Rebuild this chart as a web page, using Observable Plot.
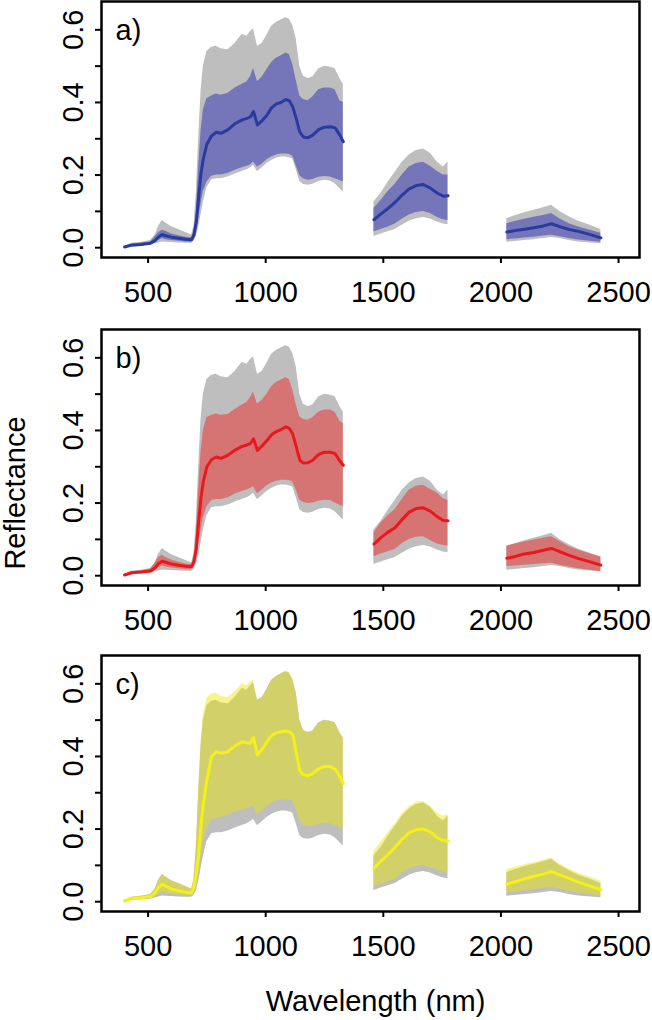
<!DOCTYPE html>
<html>
<head>
<meta charset="utf-8">
<script src="https://cdn.jsdelivr.net/npm/d3@7"></script>
<script src="https://cdn.jsdelivr.net/npm/@observablehq/plot@0.6"></script>
<style>
  html, body { margin: 0; padding: 0; background: #fff; }
  #chart { width: 652px; }
  #chart svg { display: block; }
</style>
</head>
<body>
<div id="chart"></div>
<script>
// ---- data ----
const wavelength = [
  400,430,470,510,530,545,560,575,600,630,660,685,695,705,715,725,735,750,770,790,810,840,870,900,920,935,948,965,985,1005,1025,1045,1065,1085,1100,1115,1130,1145,1160,1180,1200,1225,1250,1275,1295,1315,1330,
  1460,1490,1520,1550,1580,1610,1640,1670,1700,1730,1755,1775,
  2025,2060,2100,2140,2180,2215,2250,2290,2330,2380,2425
];
const bandGaps = [1400, 1900];

// overall range (grey envelope)
const grayHi = [
  0.003,0.012,0.015,0.020,0.035,0.060,0.075,0.068,0.058,0.050,0.042,0.035,0.060,0.150,0.300,0.430,0.500,0.540,0.552,0.555,0.548,0.545,0.563,0.588,0.582,0.595,0.603,0.555,0.562,0.585,0.610,0.620,0.627,0.633,0.630,0.612,0.575,0.500,0.472,0.466,0.470,0.492,0.500,0.497,0.493,0.466,0.450,
  0.126,0.150,0.180,0.207,0.235,0.255,0.268,0.272,0.260,0.235,0.222,0.236,
  0.080,0.088,0.096,0.103,0.110,0.117,0.100,0.085,0.073,0.062,0.050
];
const grayLo = [
  0.000,0.004,0.005,0.007,0.010,0.013,0.016,0.015,0.014,0.013,0.012,0.012,0.018,0.030,0.055,0.090,0.125,0.165,0.187,0.190,0.190,0.195,0.203,0.210,0.215,0.220,0.227,0.209,0.220,0.232,0.240,0.246,0.250,0.250,0.248,0.244,0.215,0.182,0.174,0.172,0.175,0.182,0.186,0.184,0.176,0.163,0.153,
  0.031,0.038,0.044,0.050,0.062,0.073,0.080,0.083,0.079,0.071,0.065,0.063,
  0.015,0.017,0.020,0.022,0.025,0.028,0.025,0.020,0.016,0.013,0.011
];

// class a (blue)
const blueHi = [
  0.003,0.010,0.012,0.016,0.030,0.042,0.048,0.045,0.038,0.033,0.029,0.027,0.045,0.100,0.220,0.320,0.380,0.410,0.418,0.423,0.420,0.425,0.440,0.450,0.456,0.470,0.494,0.457,0.470,0.490,0.510,0.522,0.528,0.536,0.532,0.505,0.460,0.418,0.408,0.405,0.415,0.435,0.440,0.440,0.435,0.405,0.400,
  0.108,0.130,0.155,0.175,0.200,0.222,0.232,0.235,0.224,0.210,0.200,0.200,
  0.066,0.072,0.078,0.084,0.089,0.094,0.080,0.066,0.057,0.048,0.040
];
const blueMean = [
  0.002,0.007,0.009,0.012,0.020,0.030,0.036,0.033,0.029,0.026,0.023,0.022,0.035,0.070,0.140,0.205,0.245,0.285,0.308,0.318,0.315,0.325,0.342,0.352,0.356,0.360,0.375,0.338,0.350,0.365,0.385,0.396,0.400,0.408,0.405,0.388,0.355,0.318,0.305,0.303,0.310,0.325,0.332,0.333,0.330,0.310,0.292,
  0.077,0.093,0.108,0.125,0.145,0.162,0.171,0.174,0.164,0.150,0.142,0.143,
  0.043,0.047,0.051,0.055,0.060,0.066,0.058,0.050,0.045,0.036,0.027
];
const blueLo = [
  0.001,0.005,0.006,0.009,0.013,0.020,0.025,0.022,0.020,0.018,0.016,0.015,0.025,0.045,0.080,0.120,0.155,0.180,0.197,0.200,0.200,0.204,0.213,0.220,0.224,0.228,0.236,0.222,0.230,0.242,0.250,0.255,0.258,0.258,0.257,0.252,0.225,0.198,0.190,0.186,0.188,0.194,0.196,0.195,0.190,0.185,0.181,
  0.043,0.050,0.057,0.065,0.078,0.090,0.097,0.100,0.094,0.083,0.077,0.075,
  0.022,0.024,0.027,0.029,0.032,0.034,0.030,0.025,0.021,0.018,0.015
];

// class b (red)
const redHi = [
  0.003,0.011,0.013,0.018,0.035,0.050,0.056,0.050,0.043,0.037,0.032,0.030,0.050,0.110,0.240,0.340,0.400,0.435,0.442,0.445,0.442,0.444,0.458,0.470,0.477,0.490,0.506,0.472,0.483,0.500,0.520,0.532,0.538,0.545,0.540,0.512,0.470,0.438,0.430,0.428,0.435,0.450,0.456,0.456,0.450,0.425,0.419,
  0.118,0.145,0.165,0.182,0.210,0.236,0.246,0.249,0.238,0.228,0.212,0.208,
  0.082,0.087,0.093,0.098,0.103,0.107,0.094,0.080,0.070,0.060,0.052
];
const redMean = [
  0.002,0.008,0.010,0.013,0.022,0.034,0.040,0.037,0.032,0.029,0.026,0.025,0.038,0.075,0.150,0.215,0.260,0.300,0.320,0.327,0.323,0.332,0.346,0.356,0.360,0.364,0.377,0.345,0.358,0.372,0.388,0.397,0.402,0.410,0.406,0.390,0.355,0.318,0.310,0.311,0.318,0.334,0.340,0.340,0.336,0.316,0.304,
  0.087,0.105,0.120,0.132,0.155,0.175,0.185,0.187,0.178,0.162,0.152,0.151,
  0.048,0.053,0.060,0.064,0.070,0.075,0.066,0.056,0.047,0.038,0.029
];
const redLo = [
  0.001,0.005,0.007,0.009,0.014,0.022,0.027,0.024,0.021,0.019,0.017,0.016,0.026,0.048,0.085,0.125,0.160,0.190,0.207,0.210,0.210,0.215,0.225,0.232,0.236,0.240,0.245,0.226,0.236,0.248,0.255,0.260,0.263,0.263,0.262,0.258,0.235,0.208,0.202,0.199,0.200,0.205,0.208,0.207,0.200,0.194,0.190,
  0.052,0.060,0.066,0.072,0.088,0.100,0.106,0.107,0.097,0.087,0.083,0.082,
  0.025,0.027,0.029,0.031,0.033,0.034,0.029,0.024,0.019,0.015,0.011
];

// class c (yellow)
const yellowHi = [
  0.003,0.012,0.015,0.020,0.035,0.060,0.075,0.068,0.058,0.050,0.042,0.035,0.060,0.150,0.300,0.440,0.515,0.560,0.572,0.575,0.565,0.562,0.578,0.600,0.595,0.605,0.610,0.553,0.560,0.583,0.608,0.620,0.627,0.635,0.632,0.612,0.575,0.500,0.472,0.466,0.470,0.490,0.500,0.497,0.493,0.466,0.450,
  0.138,0.165,0.190,0.215,0.243,0.262,0.274,0.276,0.262,0.244,0.235,0.240,
  0.088,0.095,0.102,0.108,0.114,0.120,0.104,0.090,0.078,0.067,0.056
];
const yellowMean = [
  0.002,0.009,0.011,0.014,0.025,0.040,0.048,0.043,0.035,0.030,0.026,0.024,0.040,0.075,0.130,0.210,0.270,0.335,0.400,0.413,0.409,0.413,0.430,0.440,0.438,0.436,0.452,0.404,0.420,0.440,0.458,0.465,0.468,0.470,0.468,0.460,0.410,0.360,0.350,0.347,0.353,0.366,0.372,0.372,0.365,0.345,0.326,
  0.092,0.112,0.130,0.150,0.172,0.190,0.198,0.200,0.192,0.176,0.168,0.168,
  0.048,0.055,0.063,0.070,0.076,0.083,0.074,0.064,0.054,0.043,0.033
];
const yellowLo = [
  0.001,0.005,0.006,0.009,0.013,0.020,0.027,0.024,0.021,0.019,0.018,0.017,0.026,0.045,0.080,0.125,0.165,0.200,0.225,0.230,0.232,0.239,0.247,0.252,0.256,0.260,0.265,0.239,0.250,0.262,0.272,0.277,0.280,0.280,0.279,0.277,0.250,0.222,0.212,0.207,0.208,0.213,0.216,0.215,0.210,0.205,0.202,
  0.039,0.048,0.055,0.062,0.078,0.090,0.097,0.100,0.095,0.088,0.081,0.079,
  0.024,0.027,0.031,0.034,0.037,0.039,0.035,0.029,0.024,0.020,0.016
];

const panelLabels = ["a)", "b)", "c)"];
const xTicks = [500, 1000, 1500, 2000, 2500];
const yTicks = [0, 0.2, 0.4, 0.6];
const yMinorTicks = [0.1, 0.3, 0.5];
const yTitle = "Reflectance";
const xTitle = "Wavelength (nm)";

// ---- drawing ----
const panels = [
  {label: panelLabels[0], hi: blueHi, mean: blueMean, lo: blueLo, fill: "#1c1cb4", fillOpacity: 0.45, stroke: "#2a3b9e", height: 328, marginBottom: 71},
  {label: panelLabels[1], hi: redHi, mean: redMean, lo: redLo, fill: "#f51a1a", fillOpacity: 0.45, stroke: "#e8191c", height: 326, marginBottom: 69},
  {label: panelLabels[2], hi: yellowHi, mean: yellowMean, lo: yellowLo, fill: "#ebe600", fillOpacity: 0.45, stroke: "#f5ef1a", height: 366, marginBottom: 109}
];

const font = "'Liberation Sans', Arial, Helvetica, sans-serif";
const chart = document.getElementById("chart");

panels.forEach((p, k) => {
  const rows = wavelength.map((w, i) => ({
    w,
    seg: bandGaps.filter(b => w > b).length,
    gLo: grayLo[i], gHi: grayHi[i],
    lo: p.lo[i], mean: p.mean[i], hi: p.hi[i]
  }));
  const marks = [
    Plot.areaY(rows, {x: "w", y1: "gLo", y2: "gHi", z: "seg", fill: "#bebebe"}),
    Plot.areaY(rows, {x: "w", y1: "lo", y2: "hi", z: "seg", fill: p.fill, fillOpacity: p.fillOpacity}),
    Plot.line(rows, {x: "w", y: "mean", z: "seg", stroke: p.stroke, strokeWidth: 3}),
    Plot.frame({stroke: "black", strokeWidth: 2.5}),
    Plot.axisX({ticks: xTicks, tickSize: 6, tickPadding: 18, strokeWidth: 2, label: null, tickFormat: d => String(d)}),
    Plot.axisY({ticks: yTicks, tickSize: 6, tickPadding: 13, tickRotate: -90, strokeWidth: 2, label: null, tickFormat: d => d.toFixed(1)}),
    Plot.axisY({ticks: yMinorTicks, tickSize: 6, strokeWidth: 2, label: null, tickFormat: () => ""}),
    Plot.text([p.label], {text: d => d, frameAnchor: "top-left", dx: 14, dy: 18, textAnchor: "start", lineAnchor: "top"})
  ];
  if (k === 1) {
    marks.push(Plot.text([yTitle], {text: d => d, frameAnchor: "left", rotate: -90, dx: -76.5, dy: 35.5, textAnchor: "middle", lineAnchor: "bottom"}));
  }
  if (k === 2) {
    marks.push(Plot.text([xTitle], {text: d => d, frameAnchor: "bottom", dx: 5, dy: 99, textAnchor: "middle", lineAnchor: "bottom"}));
  }
  const svg = Plot.plot({
    width: 652,
    height: p.height,
    marginLeft: 101,
    marginRight: 13,
    marginTop: 1,
    marginBottom: p.marginBottom,
    style: {fontFamily: font, fontSize: "29px", color: "black", background: "white", overflow: "visible"},
    x: {domain: [302, 2589]},
    y: {domain: [-0.027, 0.678]},
    marks
  });
  chart.appendChild(svg);
});
</script>
</body>
</html>
